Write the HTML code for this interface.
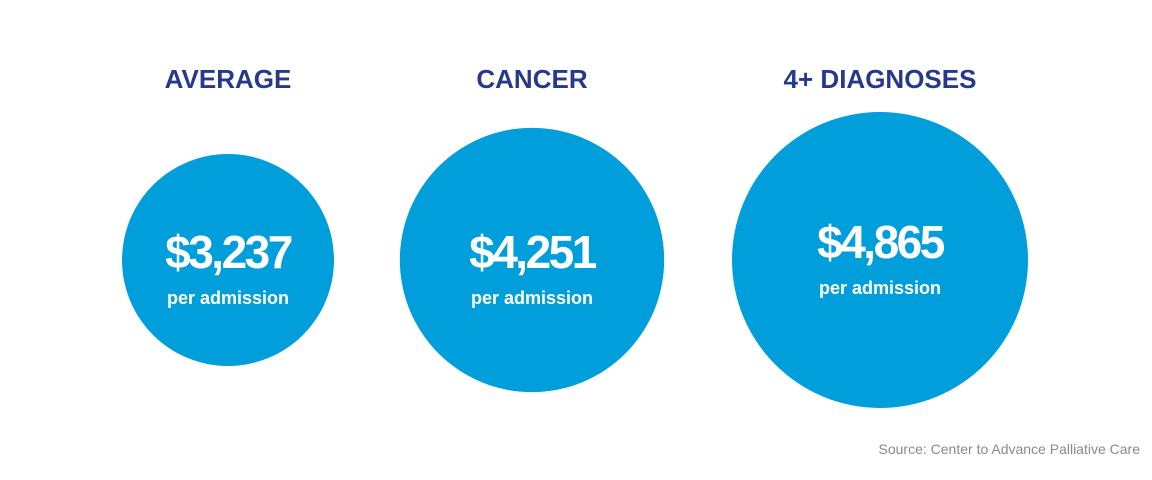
<!DOCTYPE html>
<html><head><meta charset="utf-8">
<style>
html,body{margin:0;padding:0;background:#fff;}
body{width:1152px;height:475px;overflow:hidden;font-family:"Liberation Sans",sans-serif;}
</style></head>
<body>
<svg id="chart" width="1152" height="475" viewBox="0 0 1152 475" xmlns="http://www.w3.org/2000/svg">
<text x="1140" y="454" text-anchor="end" font-family="Liberation Sans, sans-serif" font-size="14" fill="#8a8a8a">Source: Center to Advance Palliative Care</text>
</svg>
<script>
const categories = ["AVERAGE", "CANCER", "4+ DIAGNOSES"];
const values = [3237, 4251, 4865];
const valueLabels = ["$3,237", "$4,251", "$4,865"];
const subLabel = "per admission";

const svg = document.getElementById('chart');
const NS = 'http://www.w3.org/2000/svg';
const centersX = [228, 532, 880];
const cy = 260;
const vMin = Math.min(...values), vMax = Math.max(...values);
function rScale(v){ return vMax===vMin ? 127 : 106 + (v - vMin) * (148 - 106) / (vMax - vMin); }

values.forEach((v, i) => {
  const r = rScale(v);
  const cx = centersX[i];
  const c = document.createElementNS(NS, 'circle');
  
  
  c.setAttribute('cx', cx); c.setAttribute('cy', cy); c.setAttribute('r', r);
  c.setAttribute('fill', '#009fdb');
  svg.appendChild(c);

  const t = document.createElementNS(NS, 'text');
  
  
  t.setAttribute('x', cx); t.setAttribute('y', 88);
  t.setAttribute('text-anchor', 'middle');
  t.setAttribute('font-size', '26'); t.setAttribute('font-weight', 'bold');
  t.setAttribute('fill', '#26398c');
  t.textContent = categories[i];
  svg.appendChild(t);

  const big = i === 2;
  const vt = document.createElementNS(NS, 'text');
  
  
  vt.setAttribute('x', cx); vt.setAttribute('y', big ? 258 : 268);
  vt.setAttribute('text-anchor', 'middle');
  vt.setAttribute('font-size', '46'); vt.setAttribute('font-weight', 'bold');
  vt.setAttribute('letter-spacing', '-2.5');
  vt.setAttribute('fill', '#ffffff');
  vt.textContent = valueLabels[i];
  svg.appendChild(vt);

  const st = document.createElementNS(NS, 'text');
  
  
  st.setAttribute('x', cx); st.setAttribute('y', big ? 294 : 304);
  st.setAttribute('text-anchor', 'middle');
  st.setAttribute('font-size', '18'); st.setAttribute('font-weight', 'bold');
  st.setAttribute('fill', '#ffffff');
  st.textContent = subLabel;
  svg.appendChild(st);
});
</script>
</body></html>
